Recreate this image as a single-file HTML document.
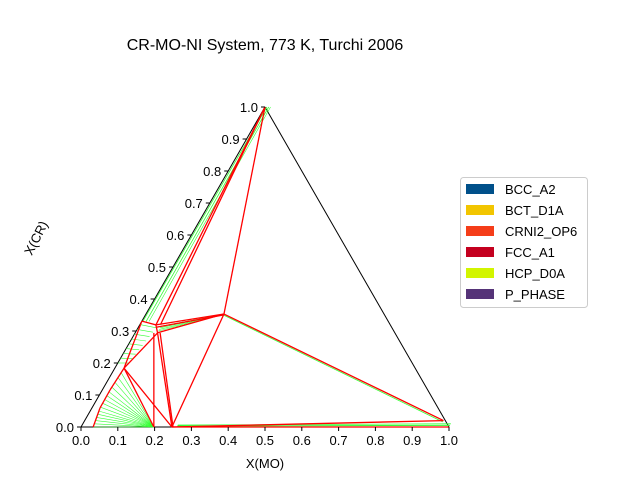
<!DOCTYPE html>
<html><head><meta charset="utf-8">
<style>
body{margin:0;background:#fff;}
svg{display:block;font-family:"Liberation Sans","DejaVu Sans",sans-serif;}
</style></head>
<body>
<svg id="chart" width="640" height="480" viewBox="0 0 640 480">
<text x="265" y="50" font-size="16" text-anchor="middle">CR-MO-NI System, 773 K, Turchi 2006</text>
<text x="265" y="468" font-size="13" text-anchor="middle">X(MO)</text>
<text x="0" y="0" font-size="13" text-anchor="middle" transform="translate(40,240) rotate(-63)">X(CR)</text>
<g id="plot"></g>
<g id="legend">
<rect x="460.5" y="177.5" width="127" height="130" rx="3" fill="#fff" stroke="#ccc"/>
</g>
</svg>
<script>
const ticks=[0,0.1,0.2,0.3,0.4,0.5,0.6,0.7,0.8,0.9,1.0];
const tickLabels=["0.0","0.1","0.2","0.3","0.4","0.5","0.6","0.7","0.8","0.9","1.0"];
const phases=["BCC_A2","BCT_D1A","CRNI2_OP6","FCC_A1","HCP_D0A","P_PHASE"];
const phaseColors=["#00508a","#f2c500","#f53d19","#c4001f","#d2f500","#553378"];
// boundary lines [mo1,cr1,mo2,cr2] in composition coordinates
const redLines=[
[0,1,0.044,0.319],[0,1,0.056,0.32],[0,1,0.212,0.353],
[0.044,0.319,0.212,0.353],[0.06,0.294,0.212,0.353],[0.05,0.312,0.212,0.35],
[0.212,0.353,0.247,0],[0.212,0.353,0.975,0.02],
[0.247,0,0.975,0.02],[0.247,0,1,0],
[0.061,0.294,0.247,0],[0.068,0.294,0.25,0],
[0.025,0.184,0.247,0],[0.025,0.184,0.198,0],
[0.025,0.184,0.061,0.294],[0.051,0.294,0.198,0],
[0,0.331,0.044,0.319],[0.044,0.319,0.061,0.294],[0,0.331,0.025,0.184],
[0.025,0.184,0.021,0.116],[0.021,0.116,0.022,0.059],[0.022,0.059,0.033,0]
];
// fcc boundary curve sample points (mo, cr) where tie lines start
const fccCurveMo=[0.025,0.024,0.023,0.022,0.021,0.021,0.021,0.021,0.022,0.022,0.023,0.025,0.027,0.029,0.031,0.033];
const fccCurveCr=[0.184,0.17,0.155,0.14,0.125,0.11,0.098,0.086,0.074,0.062,0.05,0.04,0.03,0.02,0.01,0];
const fanEndsLeft=[0.2,0.215,0.23,0.245,0.26,0.275,0.29,0.305,0.32];
const fanCB=[0.3,0.305,0.31,0.315];
const W={x0:81,x1:449,y0:427,y1:107};
function px(mo,cr){return W.x0+(W.x1-W.x0)*(mo+cr/2);}
function py(cr){return W.y0-(W.y0-W.y1)*cr;}
const NS="http://www.w3.org/2000/svg";
const plot=document.getElementById('plot');
function line(x1,y1,x2,y2,c,w,name){const l=document.createElementNS(NS,'line');
l.setAttribute('x1',x1);l.setAttribute('y1',y1);l.setAttribute('x2',x2);l.setAttribute('y2',y2);
l.setAttribute('stroke',c);l.setAttribute('stroke-width',w);


plot.appendChild(l);return l;}
function tline(a,b,c,d,col,w,name){return line(px(a,b),py(b),px(c,d),py(d),col,w,name);}
// triangle frame
tline(0,0,1,0,'#000',1,'triangle-bottom-edge');
tline(0,0,0,1,'#000',1,'triangle-left-edge');
tline(0,1,1,0,'#000',1,'triangle-right-edge');
// green tie lines
fccCurveMo.forEach((m,i)=>tline(m,fccCurveCr[i],0.198,0,'#3f3',0.6,'tie-line'));
fanEndsLeft.forEach((c,i)=>{const f=i/(fanEndsLeft.length-1);tline(0,c,0.03+0.02*f,0.2+0.11*f,'#3f3',0.6,'tie-line');});
fanCB.forEach(c=>tline(0.06,c,0.21,0.352,'#3f3',0.6,'tie-line'));
tline(0.003,0.33,0.005,1,'#3f3',0.8,'tie-line');
tline(0.012,0.33,0.01,1,'#3f3',0.8,'tie-line');
tline(0.02,0.33,0.015,1,'#3f3',0.6,'tie-line');
tline(0.212,0.35,0.975,0.016,'#3f3',0.8,'tie-line');
tline(0.26,0.003,1,0.005,'#3f3',1,'tie-line');
tline(0.26,0.006,1,0.01,'#3f3',0.8,'tie-line');
redLines.forEach(r=>tline(r[0],r[1],r[2],r[3],'#f00',1.3,'phase-boundary'));
// ticks
ticks.forEach((t,i)=>{
 const bx=px(t,0);line(bx,W.y0,bx,W.y0+4,'#000',1,'x-tick');
 const tx=document.createElementNS(NS,'text');tx.setAttribute('x',bx);tx.setAttribute('y',W.y0+18);
 tx.setAttribute('font-size','13');tx.setAttribute('text-anchor','middle');tx.textContent=tickLabels[i];
 
 plot.appendChild(tx);
 const lx=px(0,t),ly=py(t);line(lx-4,ly,lx,ly,'#000',1,'y-tick');
 const ty=document.createElementNS(NS,'text');ty.setAttribute('x',lx-7);ty.setAttribute('y',ly+5);
 ty.setAttribute('font-size','13');ty.setAttribute('text-anchor','end');ty.textContent=tickLabels[i];
 
 plot.appendChild(ty);
});
const lg=document.getElementById('legend');
phases.forEach((p,i)=>{const y=189+i*21;
 const r=document.createElementNS(NS,'rect');r.setAttribute('x',466);r.setAttribute('y',y-5);r.setAttribute('width',28);r.setAttribute('height',10);r.setAttribute('fill',phaseColors[i]);
 
 lg.appendChild(r);
 const t=document.createElementNS(NS,'text');t.setAttribute('x',505);t.setAttribute('y',y+5);t.setAttribute('font-size','13');t.textContent=p;
 
 lg.appendChild(t);
});
</script>
</body></html>
